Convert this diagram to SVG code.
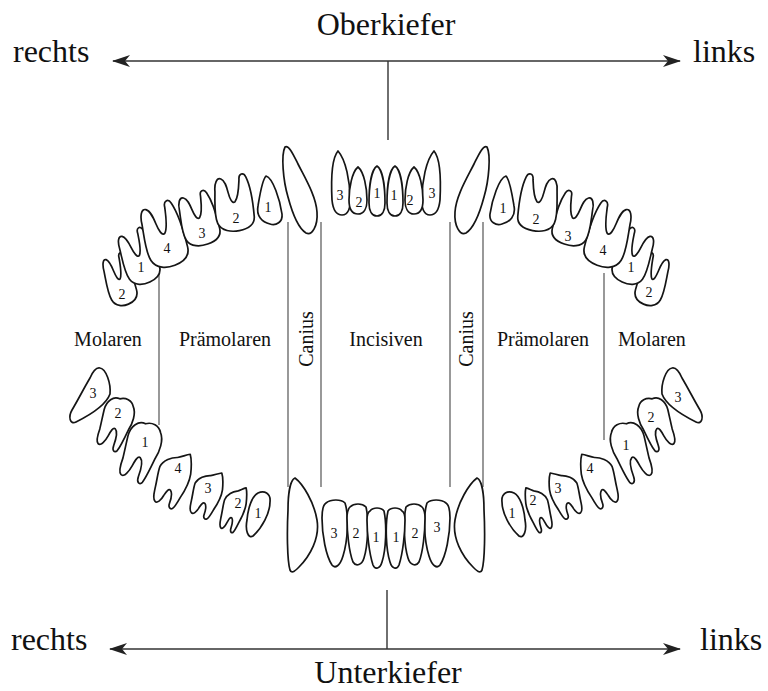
<svg xmlns="http://www.w3.org/2000/svg" xmlns:xlink="http://www.w3.org/1999/xlink" width="768" height="691" viewBox="0 0 768 691">
<style>
  .t { fill: #fff; stroke: #151515; stroke-width: 1.7; stroke-linejoin: round; vector-effect: non-scaling-stroke; }
  .n { font-family: "Liberation Serif", "Times New Roman", serif; font-size: 14px; fill: #111; text-anchor: middle; }
  .big { font-family: "Liberation Serif", "Times New Roman", serif; font-size: 32px; fill: #111; }
  .grp { font-family: "Liberation Serif", "Times New Roman", serif; font-size: 20px; fill: #111; text-anchor: middle; }
  .sep { stroke: #444; stroke-width: 1.1; fill: none; }
  .axis { stroke: #333; stroke-width: 1.4; fill: none; }
</style>
<defs>
  <marker id="ah" viewBox="0 0 18 12" refX="17" refY="6" markerWidth="18" markerHeight="12" markerUnits="userSpaceOnUse" orient="auto-start-reverse">
    <path d="M0,0 L18,6 L0,12 L5,6 Z" fill="#222"/>
  </marker>
  <!-- upper two-rooted tooth, local 0..40 x 0..58, crown down -->
  <path id="U2" class="t" d="M 10,4 C 6,2 3,8 3,16 C 2,28 0,40 3,48 C 6,56 16,58 24,57 C 33,56 40,52 40,44 C 40,34 39,14 35,4 C 33,-1 28,0 28,6 C 27,14 26,24 22,28 C 19,30 17,24 16,18 C 15,12 14,6 10,4 Z"/>
  <!-- lower two-rooted molar, local 0..40 x 0..62, crown up -->
  <path id="L2" class="t" d="M 3,22 C 2,12 8,4 16,5 C 22,1 30,2 34,8 C 40,14 40,26 38,34 C 37,44 36,54 34,60 C 32,64 28,62 28,56 C 28,48 27,40 23,38 C 20,37 19,42 18,48 C 17,54 14,62 10,60 C 6,58 6,50 6,44 C 5,36 4,30 3,22 Z"/>
  <!-- lower two-rooted premolar with cusp -->
  <path id="L2p" class="t" d="M 3,24 C 4,16 12,10 18,8 C 22,6 26,2 30,0 C 33,4 36,12 38,20 C 40,30 38,40 36,48 C 35,54 34,60 32,62 C 30,64 27,62 27,58 C 27,52 26,46 23,44 C 20,43 19,48 18,52 C 17,58 14,63 11,61 C 7,59 7,52 6,46 C 5,38 3,30 3,24 Z"/>
  <path id="uP1" class="t" d="M 266,176 C 273,178 280,200 282,214 C 283,222 276,226 270,224 C 262,222 256,216 258,206 C 260,194 262,180 266,176 Z"/>
  <path id="uC" class="t" d="M 285,147 C 281,155 283,180 288,197 C 292,212 298,228 306,233 C 312,236 318,226 317,212 C 316,196 305,178 298,164 C 293,154 289,145 285,147 Z"/>
  <path id="uI3" class="t" d="M 338,151 C 332,158 331,180 332,200 C 333,210 337,215 342,215 C 348,215 351,208 350,198 C 350,182 346,160 338,151 Z"/>
  <path id="uI2" class="t" d="M 358,167 C 352,172 349,188 349,200 C 349,209 352,214 358,214 C 364,214 367,208 367,200 C 367,188 364,172 358,167 Z"/>
  <path id="uI1" class="t" d="M 377,166 C 371,170 369,188 369,203 C 369,211 372,216 377,216 C 382,216 385,211 385,203 C 385,188 383,170 377,166 Z"/>
  <path id="lM3" class="t" d="M 100,368 C 106,369 111,383 110,394 C 106,405 90,415 76,422 C 70,425 68,417 72,410 C 78,400 84,388 90,378 C 93,371 96,367 100,368 Z"/>
  <path id="lP1" class="t" d="M 258,493 C 264,490 271,493 270,502 C 270,513 262,528 253,536 C 248,539 245,530 247,520 C 248,508 252,496 258,493 Z"/>
  <path id="lC" class="t" d="M 295,478 C 303,484 314,502 317,520 C 320,538 310,556 299,567 C 295,571 292,574 290,570 C 287,560 287,530 288,510 C 288,495 290,480 295,478 Z"/>
  <path id="lI3" class="t" d="M 326,503 C 331,499 341,499 345,503 C 349,515 348,540 343,556 C 340,566 335,569 332,565 C 326,556 322,535 322,518 C 322,510 323,505 326,503 Z"/>
  <path id="lI2" class="t" d="M 350,507 C 354,503 362,503 366,507 C 369,520 368,545 364,558 C 362,565 356,567 353,562 C 349,552 347,532 347,518 C 347,512 348,509 350,507 Z"/>
  <path id="lI1" class="t" d="M 370,511 C 373,507 381,507 384,511 C 387,525 386,550 382,562 C 380,569 375,570 373,565 C 369,553 367,532 367,520 C 367,515 368,512 370,511 Z"/>
</defs>
<rect width="768" height="691" fill="#fff"/>

<g id="connectors">
  <line class="axis" x1="113" y1="61" x2="680" y2="61" marker-start="url(#ah)" marker-end="url(#ah)"/>
  <line class="axis" x1="388" y1="61" x2="388" y2="140"/>
  <line class="axis" x1="110" y1="649" x2="680" y2="649" marker-start="url(#ah)" marker-end="url(#ah)"/>
  <line class="axis" x1="387" y1="590" x2="387" y2="649"/>
  <line class="sep" x1="159" y1="270" x2="159" y2="425"/>
  <line class="sep" x1="288" y1="222" x2="288" y2="487"/>
  <line class="sep" x1="321" y1="222" x2="321" y2="487"/>
  <line class="sep" x1="450" y1="222" x2="450" y2="487"/>
  <line class="sep" x1="483" y1="222" x2="483" y2="487"/>
  <line class="sep" x1="604" y1="273" x2="604" y2="440"/>
</g>

<g id="titles">
  <text class="big" x="386" y="35" text-anchor="middle">Oberkiefer</text>
  <text class="big" x="13" y="62">rechts</text>
  <text class="big" x="693" y="62">links</text>
  <text class="big" x="11" y="650">rechts</text>
  <text class="big" x="700" y="650">links</text>
  <text class="big" x="388" y="683" text-anchor="middle">Unterkiefer</text>
</g>

<g id="groups">
  <text class="grp" x="108" y="346">Molaren</text>
  <text class="grp" x="225" y="346">Prämolaren</text>
  <text class="grp" transform="translate(313,339) rotate(-90)">Canius</text>
  <text class="grp" x="386" y="346">Incisiven</text>
  <text class="grp" transform="translate(473,339) rotate(-90)">Canius</text>
  <text class="grp" x="543" y="346">Prämolaren</text>
  <text class="grp" x="652" y="346">Molaren</text>
</g>

<!-- Oberkiefer rechts (picture left) -->
<g id="ok-r-M2"><use href="#U2" transform="translate(119,280) rotate(-15) scale(0.72,0.92) translate(-20,-29)"/><text class="n" x="122" y="298.5">2</text></g>
<g id="ok-r-M1"><use href="#U2" transform="translate(138,257) rotate(-18) scale(0.88,0.98) translate(-20,-29)"/><text class="n" x="141" y="271.5">1</text></g>
<g id="ok-r-P4"><use href="#U2" transform="translate(163,235) rotate(-14) scale(1.05,1.15) translate(-20,-29)"/><text class="n" x="167" y="252.5">4</text></g>
<g id="ok-r-P3"><use href="#U2" transform="translate(198,219) rotate(-13) scale(0.95,0.95) translate(-20,-29)"/><text class="n" x="202" y="237.5">3</text></g>
<g id="ok-r-P2"><use href="#U2" transform="translate(233,203) rotate(-5) scale(1.0,1.0) translate(-20,-29)"/><text class="n" x="236" y="222.5">2</text></g>
<g id="ok-r-P1"><use href="#uP1"/><text class="n" x="268" y="211.5">1</text></g>
<g id="ok-r-C"><use href="#uC"/></g>
<g id="ok-r-I3"><use href="#uI3"/><text class="n" x="340" y="199.5">3</text></g>
<g id="ok-r-I2"><use href="#uI2"/><text class="n" x="359" y="206.5">2</text></g>
<g id="ok-r-I1"><use href="#uI1"/><text class="n" x="377" y="197.5">1</text></g>

<!-- Oberkiefer links (picture right, mirrored) -->
<g id="ok-l-M2"><use href="#U2" transform="matrix(-1 0 0 1 772 0) translate(119,280) rotate(-15) scale(0.72,0.92) translate(-20,-29)"/><text class="n" x="649" y="296.5">2</text></g>
<g id="ok-l-M1"><use href="#U2" transform="matrix(-1 0 0 1 772 0) translate(138,257) rotate(-18) scale(0.88,0.98) translate(-20,-29)"/><text class="n" x="631" y="271.5">1</text></g>
<g id="ok-l-P4"><use href="#U2" transform="matrix(-1 0 0 1 772 0) translate(163,235) rotate(-14) scale(1.05,1.15) translate(-20,-29)"/><text class="n" x="603" y="254.5">4</text></g>
<g id="ok-l-P3"><use href="#U2" transform="matrix(-1 0 0 1 772 0) translate(198,219) rotate(-13) scale(0.95,0.95) translate(-20,-29)"/><text class="n" x="568" y="240.5">3</text></g>
<g id="ok-l-P2"><use href="#U2" transform="matrix(-1 0 0 1 772 0) translate(233,203) rotate(-5) scale(1.0,1.0) translate(-20,-29)"/><text class="n" x="536" y="223.5">2</text></g>
<g id="ok-l-P1"><use href="#uP1" transform="matrix(-1 0 0 1 772 0)"/><text class="n" x="503" y="212.5">1</text></g>
<g id="ok-l-C"><use href="#uC" transform="matrix(-1 0 0 1 772 0)"/></g>
<g id="ok-l-I3"><use href="#uI3" transform="matrix(-1 0 0 1 772 0)"/><text class="n" x="432" y="197.5">3</text></g>
<g id="ok-l-I2"><use href="#uI2" transform="matrix(-1 0 0 1 772 0)"/><text class="n" x="410" y="204.5">2</text></g>
<g id="ok-l-I1"><use href="#uI1" transform="matrix(-1 0 0 1 772 0)"/><text class="n" x="394" y="199.5">1</text></g>

<!-- Unterkiefer rechts (picture left) -->
<g id="uk-r-M3"><use href="#lM3"/><text class="n" x="93" y="397.5">3</text></g>
<g id="uk-r-M2"><use href="#L2" transform="translate(115,422) rotate(20) scale(0.85,0.9) translate(-20,-31)"/><text class="n" x="118" y="417.5">2</text></g>
<g id="uk-r-M1"><use href="#L2" transform="translate(140,450) rotate(20) scale(0.95,1.02) translate(-20,-31)"/><text class="n" x="145" y="446.5">1</text></g>
<g id="uk-r-P4"><use href="#L2p" transform="translate(172,478) rotate(20) scale(0.9,0.92) translate(-20,-31)"/><text class="n" x="178" y="472.5">4</text></g>
<g id="uk-r-P3"><use href="#L2p" transform="translate(206,493) rotate(20) scale(0.8,0.78) translate(-20,-31)"/><text class="n" x="208" y="492.5">3</text></g>
<g id="uk-r-P2"><use href="#L2p" transform="translate(233,508) rotate(18) scale(0.62,0.75) translate(-20,-31)"/><text class="n" x="238" y="507.5">2</text></g>
<g id="uk-r-P1"><use href="#lP1"/><text class="n" x="258" y="517.5">1</text></g>
<g id="uk-r-C"><use href="#lC"/></g>
<g id="uk-r-I3"><use href="#lI3"/><text class="n" x="334" y="537.5">3</text></g>
<g id="uk-r-I2"><use href="#lI2"/><text class="n" x="356" y="537.5">2</text></g>
<g id="uk-r-I1"><use href="#lI1"/><text class="n" x="376" y="541.5">1</text></g>

<!-- Unterkiefer links (picture right, mirrored) -->
<g id="uk-l-M3"><use href="#lM3" transform="matrix(-1 0 0 1 772 0)"/><text class="n" x="678" y="401.5">3</text></g>
<g id="uk-l-M2"><use href="#L2" transform="matrix(-1 0 0 1 772 0) translate(115,422) rotate(20) scale(0.85,0.9) translate(-20,-31)"/><text class="n" x="651" y="421.5">2</text></g>
<g id="uk-l-M1"><use href="#L2" transform="matrix(-1 0 0 1 772 0) translate(140,450) rotate(20) scale(0.95,1.02) translate(-20,-31)"/><text class="n" x="626" y="449.5">1</text></g>
<g id="uk-l-P4"><use href="#L2p" transform="matrix(-1 0 0 1 772 0) translate(172,478) rotate(20) scale(0.9,0.92) translate(-20,-31)"/><text class="n" x="590" y="472.5">4</text></g>
<g id="uk-l-P3"><use href="#L2p" transform="matrix(-1 0 0 1 772 0) translate(206,493) rotate(20) scale(0.8,0.78) translate(-20,-31)"/><text class="n" x="558" y="492.5">3</text></g>
<g id="uk-l-P2"><use href="#L2p" transform="matrix(-1 0 0 1 772 0) translate(233,508) rotate(18) scale(0.62,0.75) translate(-20,-31)"/><text class="n" x="533" y="504.5">2</text></g>
<g id="uk-l-P1"><use href="#lP1" transform="matrix(-1 0 0 1 772 0)"/><text class="n" x="512" y="517.5">1</text></g>
<g id="uk-l-C"><use href="#lC" transform="matrix(-1 0 0 1 772 0)"/></g>
<g id="uk-l-I3"><use href="#lI3" transform="matrix(-1 0 0 1 772 0)"/><text class="n" x="437" y="531.5">3</text></g>
<g id="uk-l-I2"><use href="#lI2" transform="matrix(-1 0 0 1 772 0)"/><text class="n" x="415" y="537.5">2</text></g>
<g id="uk-l-I1"><use href="#lI1" transform="matrix(-1 0 0 1 772 0)"/><text class="n" x="396" y="541.5">1</text></g>
</svg>
